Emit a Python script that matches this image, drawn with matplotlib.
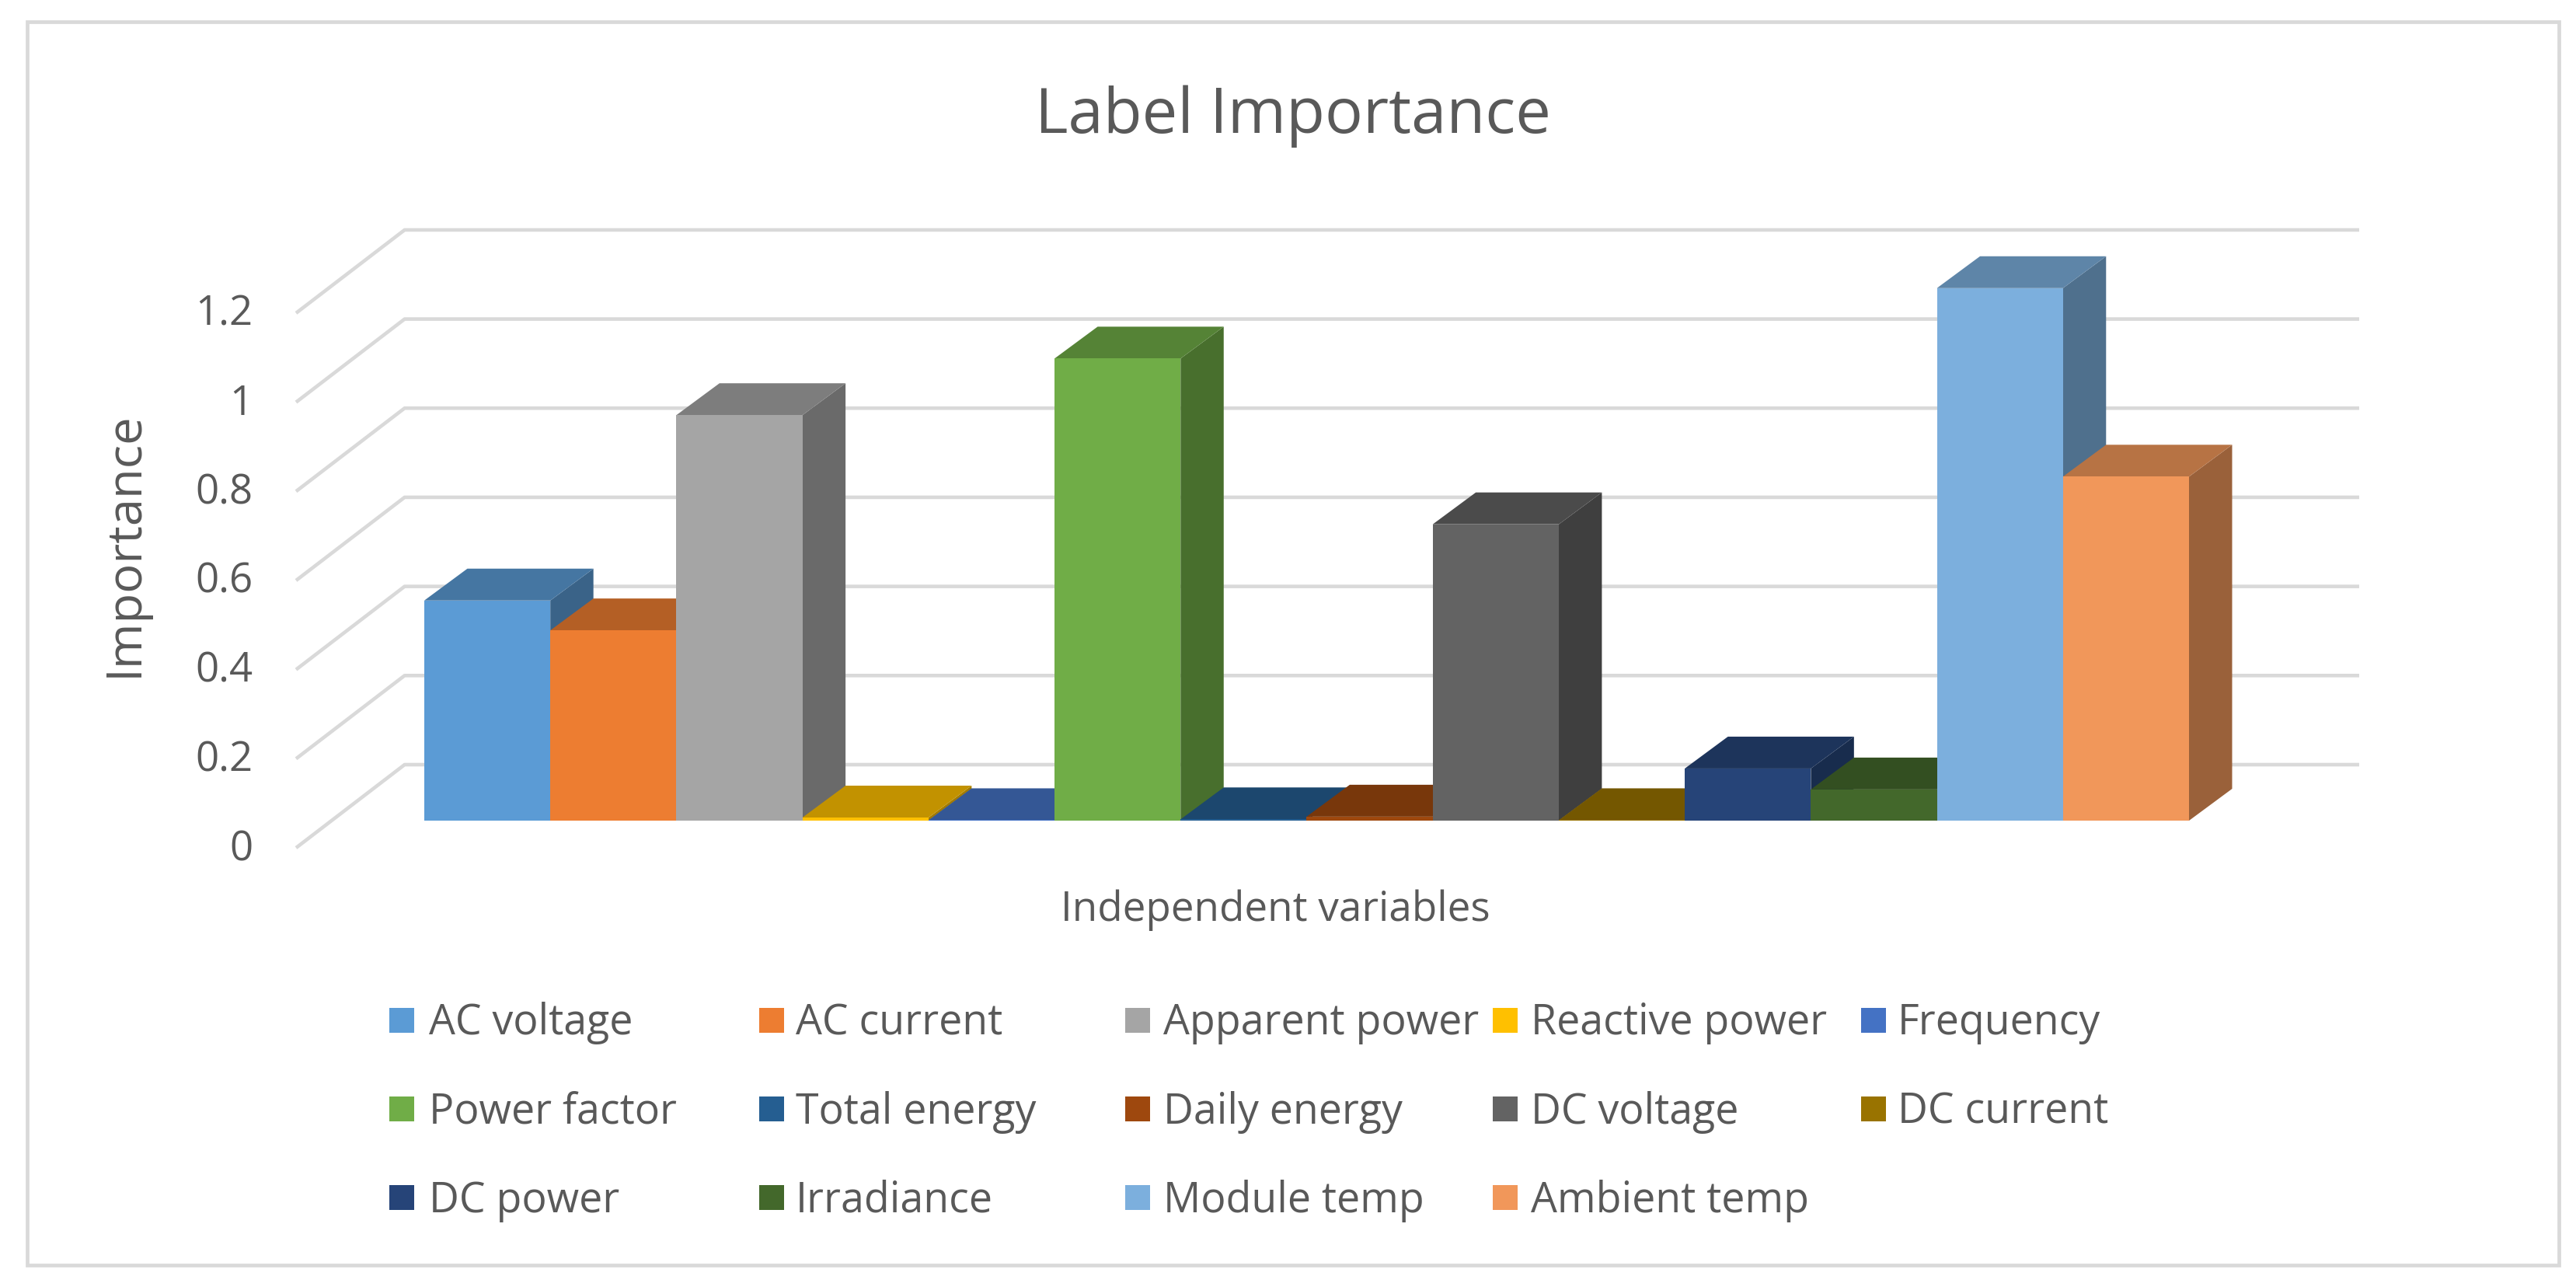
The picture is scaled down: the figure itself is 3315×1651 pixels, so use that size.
import matplotlib
matplotlib.use('Agg')
import matplotlib.pyplot as plt
from matplotlib.patches import Polygon, Rectangle
from matplotlib.colors import to_rgb

plt.rcParams['font.family'] = ['Open Sans', 'DejaVu Sans']

variables = ['AC voltage', 'AC current', 'Apparent power', 'Reactive power', 'Frequency',
             'Power factor', 'Total energy', 'Daily energy', 'DC voltage', 'DC current',
             'DC power', 'Irradiance', 'Module temp', 'Ambient temp']
importance = [0.494, 0.427, 0.91, 0.007, 0.001, 1.037, 0.003, 0.009, 0.665, 0.001,
              0.117, 0.07, 1.195, 0.772]
colors = ['#5B9BD5', '#ED7D31', '#A5A5A5', '#FFC000', '#4472C4', '#70AD47', '#255E91',
          '#9E480E', '#636363', '#997300', '#264478', '#43682B', '#7CAFDD', '#F1975A']
y_ticks = [0, 0.2, 0.4, 0.6, 0.8, 1, 1.2]

W, H = 3315, 1651
TEXT = '#595959'
GRID = '#D9D9D9'

fig = plt.figure(figsize=(W / 100, H / 100), dpi=100)


def shade(c, f):
    return tuple(v * f for v in to_rgb(c))


def fx(x):
    return x / W


def fy(y):
    return 1 - y / H


# outer frame
fig.add_artist(Rectangle((fx(35), fy(1628)), fx(3293 - 35), (1628 - 28) / H, fill=False,
                         edgecolor=GRID, linewidth=3.4, transform=fig.transFigure))

# axes cover the whole floor + back wall, one x unit = one bar
ax = fig.add_axes([fx(381), fy(1091), fx(3036 - 381), (1091 - 296) / H])
ax.set_xlim(-1.017, 15.35)
ax.set_ylim(-0.061, 1.3254)
ax.axis('off')

# gridlines, bent at the back left corner
wall_dx, wall_dy = 0.861, 0.1866
for t in y_ticks:
    y0 = t - 0.061
    ax.plot([-1.017, -1.017 + wall_dx, 15.35], [y0, y0 + wall_dy, y0 + wall_dy],
            color=GRID, lw=3.3, zorder=1, clip_on=False, solid_capstyle='butt')
    ax.text(-1.017 - 0.345, y0 - 0.004, str(t), ha='right', va='center', fontsize=38, color=TEXT)

# bars, left to right so each front hides what it should
depth_x, depth_y = 0.342, 0.0715
for i, (v, c) in enumerate(zip(importance, colors)):
    z = 2 + i
    side = [(i + 1, 0), (i + 1 + depth_x, depth_y), (i + 1 + depth_x, v + depth_y), (i + 1, v)]
    top = [(i, v), (i + 1, v), (i + 1 + depth_x, v + depth_y), (i + depth_x, v + depth_y)]
    ax.add_patch(Polygon(side, closed=True, facecolor=shade(c, 0.64), edgecolor='none', zorder=z))
    ax.add_patch(Polygon(top, closed=True, facecolor=shade(c, 0.76), edgecolor='none', zorder=z))
    ax.bar(i, v, width=1, align='edge', color=c, linewidth=0, zorder=z)

fig.text(fx(1664), fy(150), 'Label Importance', ha='center', va='center', fontsize=58.6, color=TEXT)
fig.text(fx(160), fy(700), 'Importance', ha='center', va='center', rotation=90, fontsize=45.6, color=TEXT)
fig.text(fx(1641), fy(1171), 'Independent variables', ha='center', va='center', fontsize=38.2, color=TEXT)

# legend, 5 evenly spaced columns
marker_x = [501, 977, 1448, 1921, 2395]
text_x = [552, 1024, 1497, 1970, 2442]
row_y = [1313, 1427, 1541]
for i, (name, c) in enumerate(zip(variables, colors)):
    y = row_y[i // 5]
    fig.add_artist(Rectangle((fx(marker_x[i % 5]), fy(y + 16)), 32 / W, 32 / H, facecolor=c,
                             edgecolor='none', transform=fig.transFigure))
    fig.text(fx(text_x[i % 5]), fy(y + 4), name, ha='left', va='center', fontsize=38.6, color=TEXT)

fig.savefig('out.png', dpi=100, facecolor='white')
